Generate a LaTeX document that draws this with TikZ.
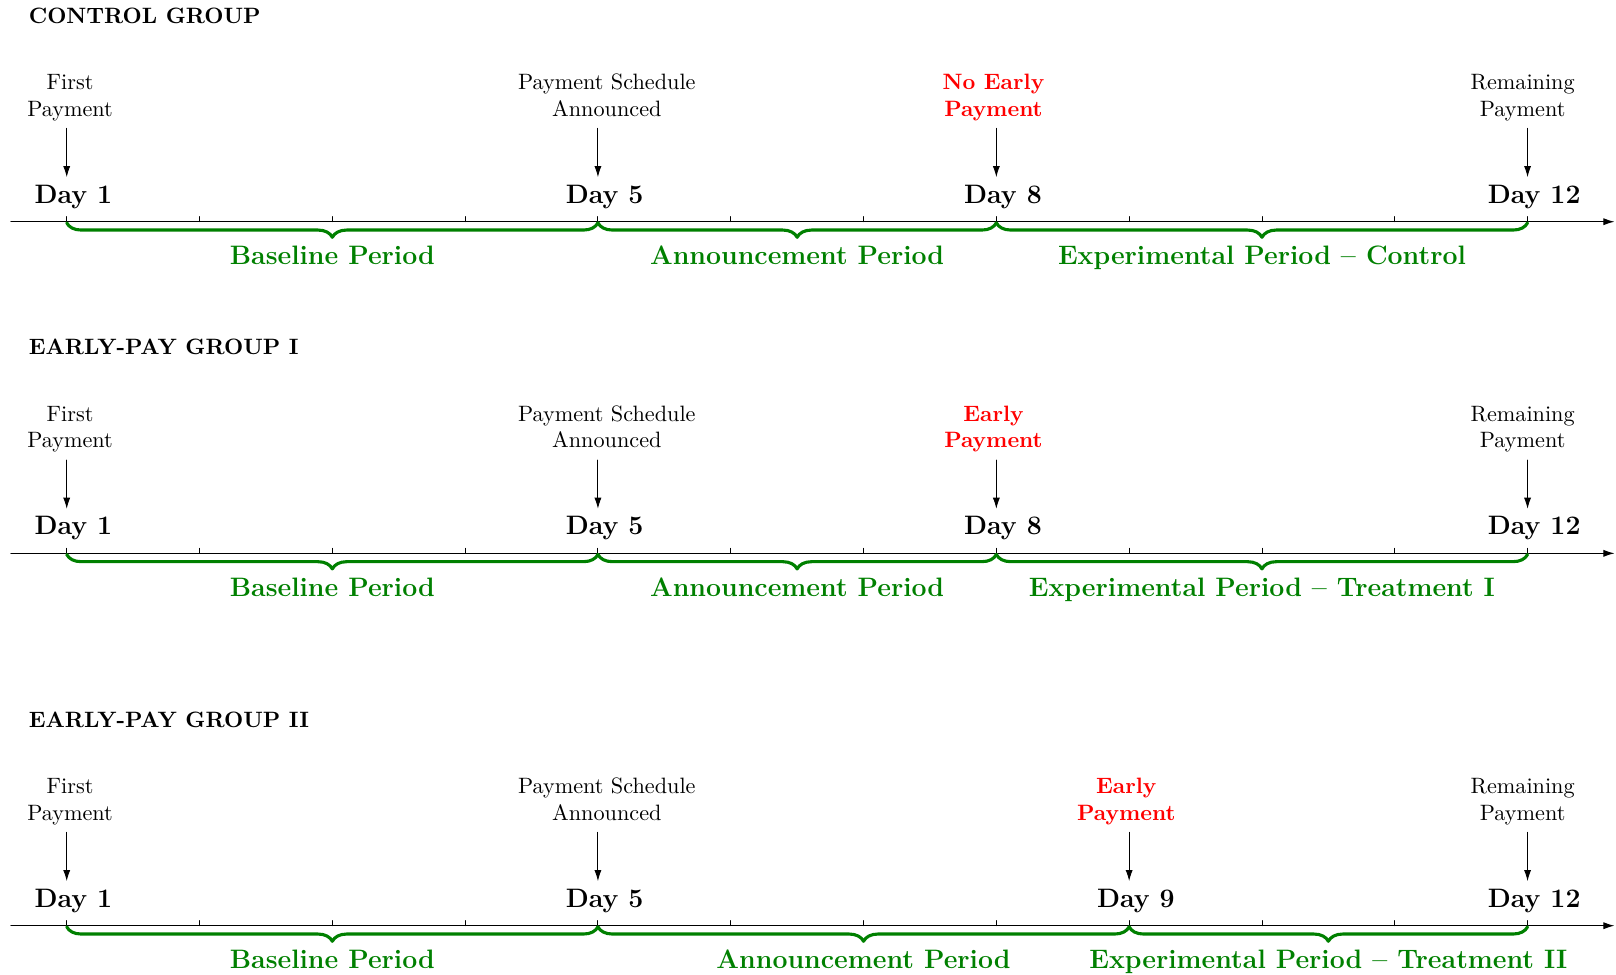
\documentclass[tikz,border=0pt]{standalone}
\usepackage{xcolor}
\usepackage{tikz}
\usetikzlibrary{arrows.meta,decorations.pathreplacing}
\definecolor{periodgreen}{rgb}{0,0.5,0}
\definecolor{earlyred}{rgb}{1,0,0}
\tikzset{
  grouptitle/.style={anchor=base west,inner sep=0pt,font=\bfseries},
  daylbl/.style={anchor=base,font=\large\bfseries,xshift=3pt},
  eventlbl/.style={anchor=south,align=center,text depth=1.94pt},
  earlylbl/.style={eventlbl,text=earlyred,font=\bfseries},
  periodbrace/.style={decorate,decoration={brace,mirror,amplitude=6.5pt,raise=0.5pt},line width=1.4pt,color=periodgreen},
  periodlbl/.style={anchor=base,yshift=-0.68cm,font=\large\bfseries,text=periodgreen},
  timeaxis/.style={line width=0.5pt,->}
}

\begin{document}
\begin{tikzpicture}[line cap=round,line join=round,>={Latex[length=5pt,width=3.2pt]},x=2.1cm,y=1.0cm]
\useasboundingbox (0.4976,-11.896) rectangle (12.666,3.506);
% control group
\node[grouptitle] (ctitle) at (0.711,3.137) {CONTROL GROUP};
\coordinate (cstart) at (0.58,0);
\coordinate (cend) at (12.655,0);
\draw[timeaxis] (cstart) -- (cend);
\foreach \d in {1,...,12} \draw (\d,0) -- (\d,0.08);
\coordinate (c1) at (1,0);
\coordinate (c5) at (5,0);
\coordinate (c8) at (8,0);
\coordinate (c12) at (12,0);
\node[daylbl] (cday1) at (1,0.291) {Day 1};
\node[daylbl] (cday5) at (5,0.291) {Day 5};
\node[daylbl] (cday8) at (8,0.291) {Day 8};
\node[daylbl] (cday12) at (12,0.291) {Day 12};
\node[eventlbl,xshift=1.5pt] (cfirst) at (1,1.475) {First\\Payment};
\node[eventlbl,xshift=4pt] (csched) at (5,1.475) {Payment Schedule\\Announced};
\node[earlylbl,xshift=-1.3pt] (cearly) at (8,1.475) {No Early\\Payment};
\node[eventlbl,xshift=-2.2pt] (crest) at (12,1.475) {Remaining\\Payment};
\draw[->] (c1 |- cfirst.south) -- (c1 |- cday1.north);
\draw[->] (c5 |- csched.south) -- (c5 |- cday5.north);
\draw[->] (c8 |- cearly.south) -- (c8 |- cday8.north);
\draw[->] (c12 |- crest.south) -- (c12 |- cday12.north);
\draw[periodbrace] (c1) -- (c5) node[periodlbl,midway] (cbase) {Baseline Period};
\draw[periodbrace] (c5) -- (c8) node[periodlbl,midway] (cann) {Announcement Period};
\draw[periodbrace] (c8) -- (c12) node[periodlbl,midway] (cexp) {Experimental Period -- Control};

% early-pay group I
\begin{scope}[yshift=-5.244cm]
\node[grouptitle] (atitle) at (0.711,3.137) {EARLY-PAY GROUP I};
\coordinate (astart) at (0.58,0);
\coordinate (aend) at (12.655,0);
\draw[timeaxis] (astart) -- (aend);
\foreach \d in {1,...,12} \draw (\d,0) -- (\d,0.08);
\coordinate (a1) at (1,0);
\coordinate (a5) at (5,0);
\coordinate (a8) at (8,0);
\coordinate (a12) at (12,0);
\node[daylbl] (aday1) at (1,0.291) {Day 1};
\node[daylbl] (aday5) at (5,0.291) {Day 5};
\node[daylbl] (aday8) at (8,0.291) {Day 8};
\node[daylbl] (aday12) at (12,0.291) {Day 12};
\node[eventlbl,xshift=1.5pt] (afirst) at (1,1.475) {First\\Payment};
\node[eventlbl,xshift=4pt] (asched) at (5,1.475) {Payment Schedule\\Announced};
\node[earlylbl,xshift=-1.3pt] (aearly) at (8,1.475) {Early\\Payment};
\node[eventlbl,xshift=-2.2pt] (arest) at (12,1.475) {Remaining\\Payment};
\draw[->] (a1 |- afirst.south) -- (a1 |- aday1.north);
\draw[->] (a5 |- asched.south) -- (a5 |- aday5.north);
\draw[->] (a8 |- aearly.south) -- (a8 |- aday8.north);
\draw[->] (a12 |- arest.south) -- (a12 |- aday12.north);
\draw[periodbrace] (a1) -- (a5) node[periodlbl,midway] (abase) {Baseline Period};
\draw[periodbrace] (a5) -- (a8) node[periodlbl,midway] (aann) {Announcement Period};
\draw[periodbrace] (a8) -- (a12) node[periodlbl,midway] (aexp) {Experimental Period -- Treatment I};
\end{scope}

% early-pay group II
\begin{scope}[yshift=-11.132cm]
\node[grouptitle] (btitle) at (0.711,3.137) {EARLY-PAY GROUP II};
\coordinate (bstart) at (0.58,0);
\coordinate (bend) at (12.655,0);
\draw[timeaxis] (bstart) -- (bend);
\foreach \d in {1,...,12} \draw (\d,0) -- (\d,0.08);
\coordinate (b1) at (1,0);
\coordinate (b5) at (5,0);
\coordinate (b9) at (9,0);
\coordinate (b12) at (12,0);
\node[daylbl] (bday1) at (1,0.291) {Day 1};
\node[daylbl] (bday5) at (5,0.291) {Day 5};
\node[daylbl] (bday9) at (9,0.291) {Day 9};
\node[daylbl] (bday12) at (12,0.291) {Day 12};
\node[eventlbl,xshift=1.5pt] (bfirst) at (1,1.475) {First\\Payment};
\node[eventlbl,xshift=4pt] (bsched) at (5,1.475) {Payment Schedule\\Announced};
\node[earlylbl,xshift=-1.3pt] (bearly) at (9,1.475) {Early\\Payment};
\node[eventlbl,xshift=-2.2pt] (brest) at (12,1.475) {Remaining\\Payment};
\draw[->] (b1 |- bfirst.south) -- (b1 |- bday1.north);
\draw[->] (b5 |- bsched.south) -- (b5 |- bday5.north);
\draw[->] (b9 |- bearly.south) -- (b9 |- bday9.north);
\draw[->] (b12 |- brest.south) -- (b12 |- bday12.north);
\draw[periodbrace] (b1) -- (b5) node[periodlbl,midway] (bbase) {Baseline Period};
\draw[periodbrace] (b5) -- (b9) node[periodlbl,midway] (bann) {Announcement Period};
\draw[periodbrace] (b9) -- (b12) node[periodlbl,midway] (bexp) {Experimental Period -- Treatment II};
\end{scope}
\end{tikzpicture}
\end{document}
